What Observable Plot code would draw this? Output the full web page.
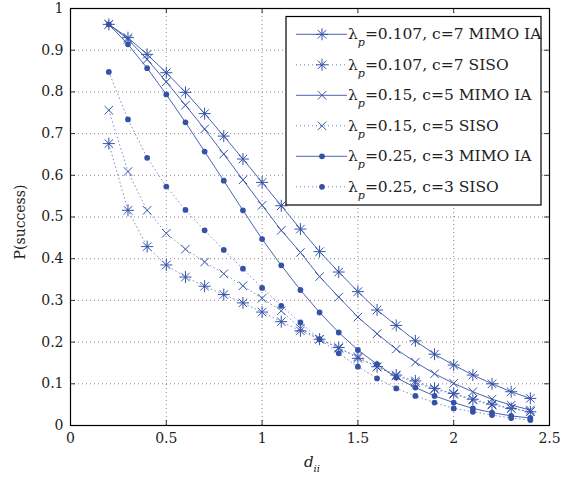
<!DOCTYPE html>
<html><head><meta charset="utf-8">
<script src="https://cdn.jsdelivr.net/npm/d3@7"></script>
<script src="https://cdn.jsdelivr.net/npm/@observablehq/plot@0.6"></script>
<style>body{margin:0;background:#fff}</style>
</head><body><div id="chart"></div>
<script>
// ---- data ----
const dValues = [0.2,0.3,0.4,0.5,0.6,0.7,0.8,0.9,1.0,1.1,1.2,1.3,1.4,1.5,1.6,1.7,1.8,1.9,2.0,2.1,2.2,2.3,2.4];
const mimo107 = [0.962,0.930,0.890,0.846,0.799,0.748,0.694,0.639,0.583,0.527,0.471,0.417,0.368,0.321,0.277,0.240,0.203,0.171,0.145,0.121,0.100,0.081,0.065];
const siso107 = [0.676,0.516,0.429,0.385,0.356,0.334,0.314,0.294,0.272,0.249,0.227,0.207,0.187,0.161,0.141,0.121,0.107,0.089,0.077,0.063,0.051,0.041,0.033];
const mimo15  = [0.962,0.926,0.878,0.824,0.768,0.711,0.651,0.589,0.528,0.468,0.415,0.357,0.308,0.260,0.220,0.183,0.152,0.124,0.101,0.081,0.063,0.049,0.037];
const siso15  = [0.756,0.609,0.516,0.461,0.423,0.392,0.364,0.335,0.305,0.275,0.233,0.207,0.185,0.165,0.140,0.119,0.103,0.087,0.075,0.061,0.049,0.041,0.033];
const mimo25  = [0.962,0.914,0.857,0.794,0.727,0.657,0.587,0.516,0.447,0.384,0.325,0.271,0.223,0.181,0.147,0.115,0.091,0.071,0.055,0.041,0.031,0.023,0.018];
const siso25  = [0.848,0.734,0.642,0.573,0.517,0.468,0.421,0.376,0.330,0.287,0.247,0.207,0.173,0.141,0.113,0.089,0.071,0.055,0.041,0.033,0.025,0.018,0.013];
const seriesLabels = ["=0.107, c=7 MIMO IA","=0.107, c=7 SISO","=0.15, c=5 MIMO IA","=0.15, c=5 SISO","=0.25, c=3 MIMO IA","=0.25, c=3 SISO"];
const xTicks = [0,0.5,1,1.5,2,2.5];
const xTickLabels = ["0","0.5","1","1.5","2","2.5"];
const yTicks = [0,0.1,0.2,0.3,0.4,0.5,0.6,0.7,0.8,0.9,1];
const yTickLabels = ["0","0.1","0.2","0.3","0.4","0.5","0.6","0.7","0.8","0.9","1"];

// ---- styles ----
const FONT = "DejaVu Serif";
const blue = "#3552a8";
const starSym = { draw(ctx, size) { const r = Math.sqrt(size/Math.PI); const d = r*Math.SQRT1_2;
  ctx.moveTo(-r,0); ctx.lineTo(r,0); ctx.moveTo(0,-r); ctx.lineTo(0,r);
  ctx.moveTo(-d,-d); ctx.lineTo(d,d); ctx.moveTo(-d,d); ctx.lineTo(d,-d); } };
const timesSym = { draw(ctx, size) { const r = Math.sqrt(size/Math.PI)*Math.SQRT1_2;
  ctx.moveTo(-r,-r); ctx.lineTo(r,r); ctx.moveTo(-r,r); ctx.lineTo(r,-r); } };
const seriesValues = [mimo107, siso107, mimo15, siso15, mimo25, siso25];
const styles = [
  {sym: starSym, r: 6, filled: false, dotted: false},
  {sym: starSym, r: 6, filled: false, dotted: true},
  {sym: timesSym, r: 6, filled: false, dotted: false},
  {sym: timesSym, r: 6, filled: false, dotted: true},
  {sym: "circle", r: 2.9, filled: true, dotted: false},
  {sym: "circle", r: 2.9, filled: true, dotted: true}
];

const rows = seriesValues.flatMap((vals, s) => vals.map((p, i) => ({s, d: dValues[i], p})));

const W = 579, H = 477;
const marks = [
  Plot.gridX(xTicks.slice(1, -1), {stroke: "#444", strokeOpacity: 0.8, strokeWidth: 0.8, strokeDasharray: "1,3"}),
  Plot.gridY(yTicks.slice(1, -1), {stroke: "#444", strokeOpacity: 0.8, strokeWidth: 0.8, strokeDasharray: "1,3"})
];
styles.forEach((st, s) => {
  const data = rows.filter(r => r.s === s);
  marks.push(Plot.line(data, {x: "d", y: "p", stroke: blue, strokeWidth: st.dotted ? 0.8 : 0.9,
    strokeOpacity: st.dotted ? 0.8 : 1, strokeDasharray: st.dotted ? "0.8,3.2" : null}));
  marks.push(Plot.dot(data, {x: "d", y: "p", symbol: () => st.sym, r: st.r,
    fill: st.filled ? blue : "none", stroke: blue, strokeWidth: st.filled ? 0 : 1}));
});
marks.push(
  Plot.ruleX(xTicks, {y1: 0, y2: 0.012, stroke: "#000", strokeWidth: 0.8}),
  Plot.ruleX(xTicks, {y1: 1, y2: 0.988, stroke: "#000", strokeWidth: 0.8}),
  Plot.ruleY(yTicks, {x1: 0, x2: 0.026, stroke: "#000", strokeWidth: 0.8}),
  Plot.ruleY(yTicks, {x1: 2.5, x2: 2.474, stroke: "#000", strokeWidth: 0.8}),
  Plot.frame({stroke: "#000", strokeWidth: 1.2}),
  Plot.axisX({ticks: xTicks, tickSize: 0, tickPadding: 8, tickFormat: (d, i) => xTickLabels[i], label: null, fontSize: 14, fontFamily: FONT}),
  Plot.axisY({ticks: yTicks, tickSize: 0, tickPadding: 7, tickFormat: (d, i) => yTickLabels[i], label: null, fontSize: 14, fontFamily: FONT})
);

const svg = Plot.plot({
  width: W, height: H,
  marginLeft: 70, marginRight: 30, marginTop: 8, marginBottom: 52,
  x: {domain: [0, 2.5]},
  y: {domain: [0, 1]},
  style: {fontFamily: FONT, fontSize: "14px", color: "#222", background: "#fff"},
  marks
});
svg.setAttribute("font-family", FONT);

const g = d3.select(svg);
// Axis labels
g.append("text").attr("transform", "translate(25,222) rotate(-90)").attr("text-anchor", "middle")
  .attr("font-family", FONT).attr("font-size", 14).attr("fill", "#222").text("P(success)");
const xl = g.append("text").attr("x", 304).attr("y", 467).attr("text-anchor", "start")
  .attr("font-family", FONT).attr("font-size", 15).attr("fill", "#222");
xl.append("tspan").attr("font-style", "italic").text("d");
xl.append("tspan").attr("font-style", "italic").attr("font-size", 10).attr("dy", 5).text("ii");

// Legend
const lg = g.append("g");
const lx0 = 286, ly0 = 16.5, lx1 = 541, ly1 = 205;
lg.append("rect").attr("x", lx0).attr("y", ly0).attr("width", lx1 - lx0).attr("height", ly1 - ly0)
  .attr("fill", "#fff").attr("stroke", "#000").attr("stroke-width", 1.2);
styles.forEach((st, i) => {
  const cy = 34.3 + i * 30.5;
  lg.append("line").attr("x1", 296).attr("x2", 347).attr("y1", cy).attr("y2", cy)
    .attr("stroke", blue).attr("stroke-width", 0.9).attr("stroke-dasharray", st.dotted ? "0.8,3.2" : null);
  const symType = st.sym === "circle" ? d3.symbolCircle : st.sym;
  lg.append("path").attr("transform", `translate(322,${cy})`)
    .attr("d", d3.symbol(symType, Math.PI * st.r * st.r)())
    .attr("fill", st.filled ? blue : "none").attr("stroke", blue).attr("stroke-width", st.filled ? 0 : 1);
  const t = lg.append("text").attr("x", 348).attr("y", cy + 5).attr("text-anchor", "start")
    .attr("font-family", FONT).attr("font-size", 15.5).attr("fill", "#222");
  t.append("tspan").text("λ");
  t.append("tspan").attr("font-style", "italic").attr("font-size", 11).attr("dy", 7).text("p");
  t.append("tspan").attr("dy", -7).text(seriesLabels[i]);
});

document.getElementById("chart").append(svg);
</script>
</body></html>
